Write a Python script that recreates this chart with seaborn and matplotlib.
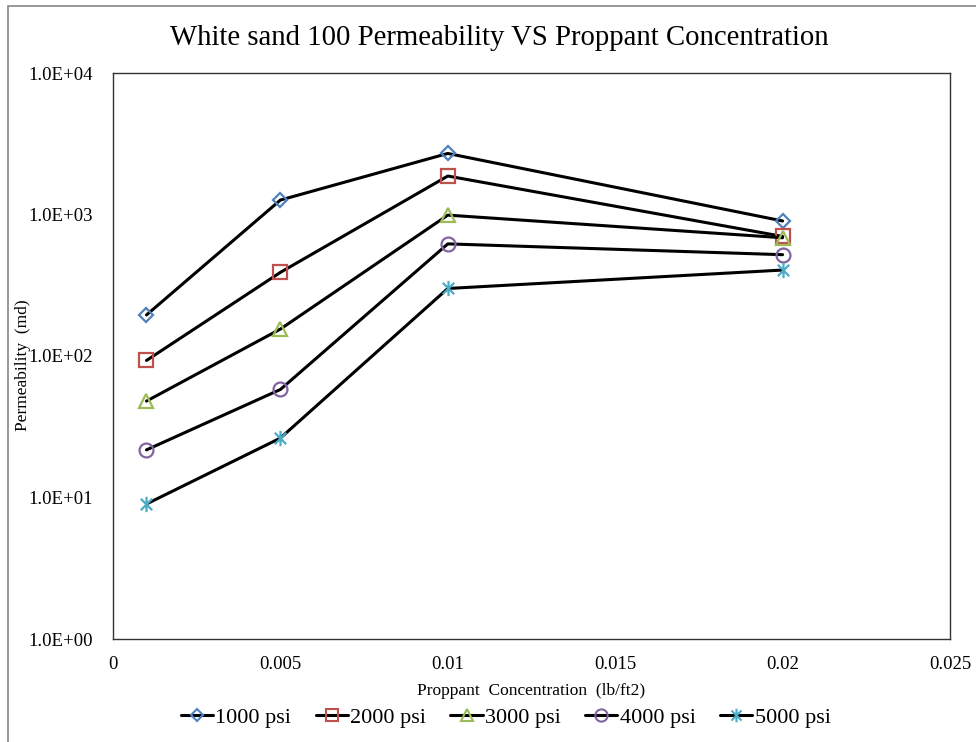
import matplotlib
matplotlib.use("Agg")
import matplotlib.pyplot as plt
import seaborn as sns
import numpy as np
import pandas as pd
from matplotlib.path import Path
from matplotlib.lines import Line2D
from matplotlib.patches import Rectangle

concentration = [0.001, 0.005, 0.01, 0.02]
series_names = ["1000 psi", "2000 psi", "3000 psi", "4000 psi", "5000 psi"]
perm_1000 = [195, 1265, 2700, 900]
perm_2000 = [93, 390, 1870, 700]
perm_3000 = [48, 155, 990, 685]
perm_4000 = [21.7, 58, 620, 520]
perm_5000 = [9.0, 26.3, 300, 405]
x_ticks = [0, 0.005, 0.01, 0.015, 0.02, 0.025]
x_tick_labels = ["0", "0.005", "0.01", "0.015", "0.02", "0.025"]
y_ticks = [1, 10, 100, 1000, 10000]
y_tick_labels = ["1.0E+00", "1.0E+01", "1.0E+02", "1.0E+03", "1.0E+04"]

sns.set_theme(style="white")
plt.rcParams["font.family"] = ["Liberation Serif", "DejaVu Serif"]
plt.rcParams["text.color"] = "black"
plt.rcParams["axes.labelcolor"] = "black"

star = Path([(0, -1), (0, 1), (-0.75, -0.75), (0.75, 0.75), (-0.75, 0.75), (0.75, -0.75)],
            [Path.MOVETO, Path.LINETO, Path.MOVETO, Path.LINETO, Path.MOVETO, Path.LINETO])

markers = ["D", "s", "^", "o", star]
msizes = [7.5, 9.5, 10, 10, 11]
colors = ["#4F81BD", "#C0504D", "#9BBB59", "#8064A2", "#4BACC6"]
all_vals = [perm_1000, perm_2000, perm_3000, perm_4000, perm_5000]

fig = plt.figure(figsize=(9.76, 7.42), dpi=100)
ax = fig.add_axes([113 / 976, 1 - 639 / 742, (950 - 113) / 976, (639 - 73) / 742])

handles = []
for name, vals, m, ms, c in zip(series_names, all_vals, markers, msizes, colors):
    df = pd.DataFrame({"x": concentration, "y": vals})
    sns.lineplot(data=df, x="x", y="y", ax=ax, color="black", linewidth=2.2,
                 marker=m, markersize=ms, markeredgecolor=c, markerfacecolor="none",
                 markeredgewidth=1.6, legend=False)
    handles.append(Line2D([0], [0], color="black", linewidth=2.2, marker=m, markersize=ms * 0.88,
                          markeredgecolor=c, markerfacecolor="none", markeredgewidth=1.5))

ax.set_yscale("log")
ax.set_ylim(1, 10000)
ax.set_xlim(0, 0.025)
ax.set_xticks(x_ticks)
ax.set_xticklabels(x_tick_labels, fontsize=13.5)
ax.set_yticks(y_ticks)
ax.set_yticklabels(y_tick_labels, fontsize=13.5)
ax.minorticks_off()
ax.tick_params(axis="y", length=0, pad=14.5, colors="black")
ax.tick_params(axis="x", length=0, pad=12, colors="black")
for s in ax.spines.values():
    s.set_color("#333333")
    s.set_linewidth(1.0)

ax.set_xlabel("Proppant  Concentration  (lb/ft2)", fontsize=12.5)
ax.xaxis.set_label_coords(0.5, -(683 - 639) / 566)
ax.set_ylabel("Permeability  (md)", fontsize=12.5)
ax.yaxis.set_label_coords(-(113 - 31) / 837, 0.484)
fig.text(0.512, 1 - 38 / 742, "White sand 100 Permeability VS Proppant Concentration",
         ha="center", va="center", fontsize=20.7)

fig.legend(handles, series_names, loc="center", bbox_to_anchor=(0.518, 1 - 718 / 742),
           ncol=5, frameon=False, fontsize=16, handlelength=1.45, handletextpad=0.1,
           columnspacing=1.1)

fig.add_artist(Rectangle((8 / 976, -0.1), 1.2, 1 + 0.1 - 6 / 742, transform=fig.transFigure,
                         fill=False, edgecolor="#888888", linewidth=1.2))

fig.savefig("out.png", dpi=100)
